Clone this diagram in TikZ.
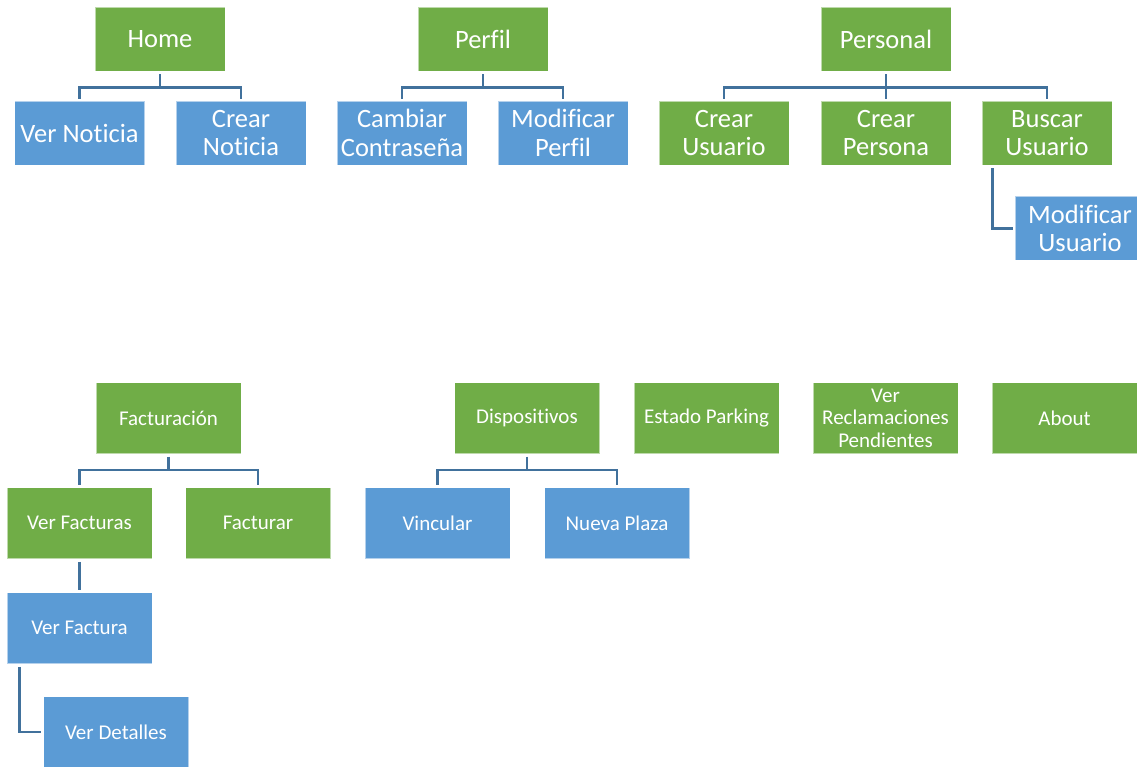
\documentclass[tikz,border=0pt]{standalone}
\usepackage{fontspec}
\setmainfont[Ligatures=NoCommon]{Carlito}
\definecolor{leafgreen}{HTML}{70AD47}
\definecolor{skyblue}{HTML}{5B9BD5}
\definecolor{linkblue}{HTML}{41719C}
\tikzset{
  card/.style={minimum width=130pt, minimum height=64pt, inner sep=0pt, align=center,
    text=white, draw=white, draw opacity=0.55, line width=0.8pt,
    font=\fontsize{26.5}{28.5}\selectfont},
  wide/.style={card, minimum width=145pt, minimum height=71pt,
    font=\fontsize{21}{22.5}\selectfont},
  gbox/.style={fill=leafgreen},
  bbox/.style={fill=skyblue},
  link/.style={draw=linkblue, line width=2.8pt, shorten <=3pt, shorten >=2pt}
}
\begin{document}
\begin{tikzpicture}[x=1pt, y=-1pt]
\useasboundingbox[fill=white] (0,0) rectangle (1137,767);

% upper row: Home, Perfil, Personal
\node[card,gbox] (home) at (160,39) {Home};
\node[card,bbox] (vnot) at (79.5,133) {Ver Noticia};
\node[card,bbox] (cnot) at (241,133) {Crear\\Noticia};

\node[card,gbox] (perf) at (483,39) {Perfil};
\node[card,bbox] (cpwd) at (402,133) {Cambiar\\Contraseña};
\node[card,bbox] (mper) at (563,133) {Modificar\\Perfil};

\node[card,gbox] (pers) at (886,39) {Personal};
\node[card,gbox] (cusu) at (724,133) {Crear\\Usuario};
\node[card,gbox] (cpna) at (886,133) {Crear\\Persona};
\node[card,gbox] (busu) at (1047,133) {Buscar\\Usuario};
\node[card,bbox] (musu) at (1080,228.5) {Modificar\\Usuario};

\foreach \p/\c in {home/vnot, home/cnot, perf/cpwd, perf/mper, pers/cusu, pers/cpna, pers/busu}
  \draw[link] (\p.south) -- ++(0,16) -| (\c.north);
\draw[link] ([xshift=11pt]busu.south west) |- (musu.west);

% lower row: Facturación, Dispositivos and single entries
\node[wide,gbox] (fact) at (168.5,418) {Facturación};
\node[wide,gbox] (vfas) at (79.5,523) {Ver Facturas};
\node[wide,gbox] (fctr) at (258,523) {Facturar};
\node[wide,bbox] (vfac) at (79.5,628) {Ver Factura};
\node[wide,bbox] (vdet) at (116,732) {Ver Detalles};

\node[wide,gbox] (disp) at (527,418) {Dispositivos};
\node[wide,bbox] (vinc) at (437.5,523) {Vincular};
\node[wide,bbox] (npla) at (617,523) {Nueva Plaza};

\node[wide,gbox] (epar) at (706.5,418) {Estado Parking};
\node[wide,gbox] (vrec) at (885.5,418) {Ver\\Reclamaciones\\Pendientes};
\node[wide,gbox] (abou) at (1064.5,418) {About};

\foreach \p/\c in {fact/vfas, fact/fctr, disp/vinc, disp/npla}
  \draw[link] (\p.south) -- ++(0,16) -| (\c.north);
\draw[link] (vfas.south) -- (vfac.north);
\draw[link] ([xshift=12.5pt]vfac.south west) |- (vdet.west);
\end{tikzpicture}
\end{document}
